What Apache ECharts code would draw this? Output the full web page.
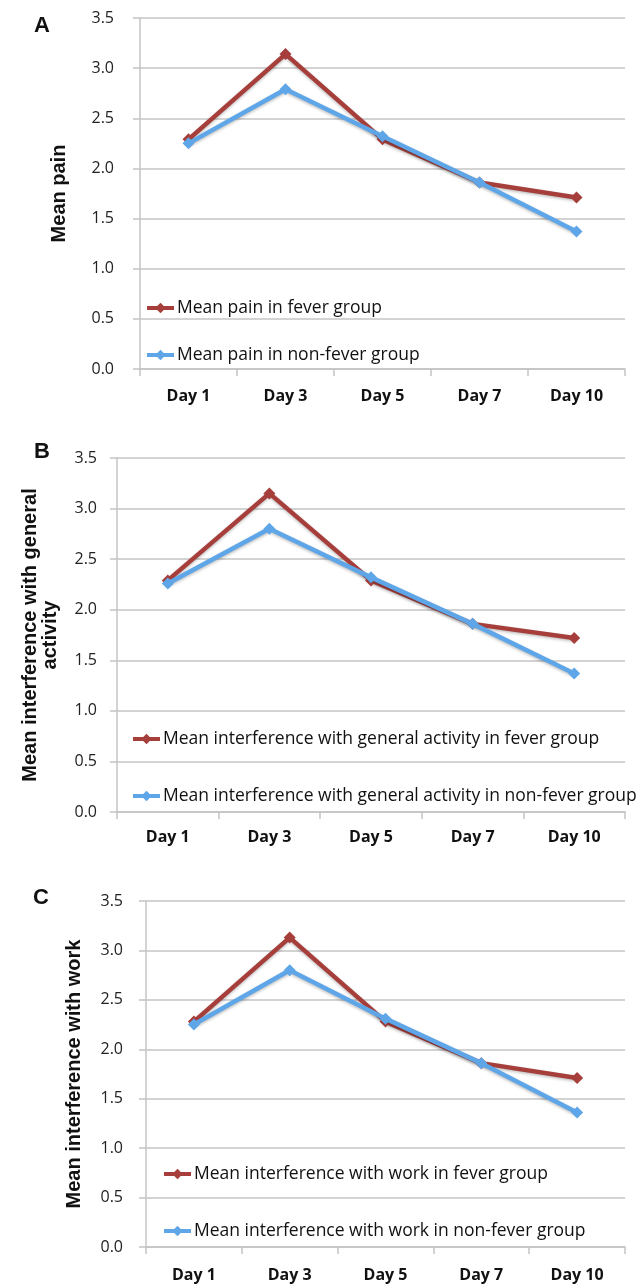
<!DOCTYPE html>
<html>
<head>
<meta charset="utf-8">
<script src="https://cdn.jsdelivr.net/npm/echarts@6/dist/echarts.min.js"></script>
<style>
  html, body { margin: 0; padding: 0; background: #fff; }
  #chart { width: 644px; height: 1286px; }
</style>
</head>
<body>
<div id="chart"></div>
<script>
// ---- data ----
const days = ['Day 1', 'Day 3', 'Day 5', 'Day 7', 'Day 10'];
const yTicks = ['0.0', '0.5', '1.0', '1.5', '2.0', '2.5', '3.0', '3.5'];

const painFever    = [2.29, 3.14, 2.29, 1.86, 1.71];
const painNonFever = [2.25, 2.79, 2.32, 1.86, 1.37];

const activityFever    = [2.29, 3.15, 2.29, 1.86, 1.72];
const activityNonFever = [2.26, 2.80, 2.32, 1.86, 1.37];

const workFever    = [2.28, 3.13, 2.28, 1.86, 1.71];
const workNonFever = [2.25, 2.80, 2.31, 1.86, 1.36];

const panelLetters = ['A', 'B', 'C'];
const yNames = ['Mean pain', 'Mean interference with general\nactivity', 'Mean interference with work'];
const seriesNames = [
  ['Mean pain in fever group', 'Mean pain in non-fever group'],
  ['Mean interference with general activity in fever group', 'Mean interference with general activity in non-fever group'],
  ['Mean interference with work in fever group', 'Mean interference with work in non-fever group']
];
const panelData = [
  [painFever, painNonFever],
  [activityFever, activityNonFever],
  [workFever, workNonFever]
];

// ---- layout / style ----
const RED = '#A63F3B';
const BLUE = '#5EA6E8';
const GRAY = '#c4c4c4';

const grids = [
  { left: 140, right: 19, top: 18, height: 351 },
  { left: 117, right: 19, top: 458, height: 354 },
  { left: 146, right: 19, top: 901, height: 346 }
];
const labelMargins = [26, 20, 23];
const xLabelMargins = [19, 17, 20];
const nameGaps = [71, 57, 62];
const nameSizes = [20, 20, 20];
const titlePos = [
  { left: 34, top: 15 },
  { left: 34, top: 441 },
  { left: 33, top: 887 }
];
const legendPos = [
  { left: 145, top: 299, itemGap: 29 },
  { left: 131, top: 730, itemGap: 39 },
  { left: 162, top: 1165, itemGap: 39 }
];

const option = {
  backgroundColor: '#fff',
  animation: false,
  title: panelLetters.map((t, i) => ({
    text: t, left: titlePos[i].left, top: titlePos[i].top, padding: 0,
    textStyle: { fontFamily: 'Liberation Sans', fontWeight: 'bold', fontSize: 22, color: '#111' }
  })),
  grid: grids,
  xAxis: grids.map((g, i) => ({
    type: 'category', gridIndex: i, data: days, boundaryGap: true,
    axisLine: { show: true, lineStyle: { color: GRAY, width: 1.5 } },
    axisTick: { show: true, length: 7, lineStyle: { color: GRAY, width: 1.5 } },
    axisLabel: { fontFamily: 'Open Sans', fontWeight: 'bold', fontSize: 16, color: '#111', margin: xLabelMargins[i] },
    splitLine: { show: false }
  })),
  yAxis: grids.map((g, i) => ({
    type: 'value', gridIndex: i, min: 0, max: 3.5, interval: 0.5,
    name: yNames[i], nameLocation: 'middle', nameGap: nameGaps[i],
    nameTextStyle: { fontFamily: 'Liberation Sans', fontWeight: 'bold', fontSize: nameSizes[i], color: '#111', lineHeight: 20 },
    axisLine: { show: true, lineStyle: { color: GRAY, width: 1.5 } },
    axisTick: { show: true, length: 7, lineStyle: { color: GRAY, width: 1.5 } },
    axisLabel: {
      fontFamily: 'Open Sans', fontSize: 16, color: '#222', margin: labelMargins[i],
      formatter: v => yTicks[Math.round(v / 0.5)]
    },
    splitLine: { show: true, lineStyle: { color: GRAY, width: 1.5 } }
  })),
  legend: grids.map((g, i) => ({
    orient: 'vertical',
    left: legendPos[i].left, top: legendPos[i].top, itemGap: legendPos[i].itemGap,
    itemWidth: 27, itemHeight: 13, padding: 0,
    data: seriesNames[i],
    lineStyle: { width: 4 },
    textStyle: { fontFamily: 'Open Sans', fontSize: 17.5, color: '#111', padding: [0, 0, 0, -2] }
  })),
  series: []
};

panelData.forEach((pair, i) => {
  pair.forEach((vals, j) => {
    option.series.push({
      type: 'line',
      name: seriesNames[i][j],
      xAxisIndex: i, yAxisIndex: i,
      data: vals,
      symbol: 'diamond', symbolSize: 12,
      lineStyle: { color: j === 0 ? RED : BLUE, width: 4.5, shadowColor: 'rgba(0,0,0,0.25)', shadowBlur: 3, shadowOffsetY: 1.5 },
      itemStyle: { color: j === 0 ? RED : BLUE },
      z: 2 + j
    });
  });
});

const chart = echarts.init(document.getElementById('chart'), null, { renderer: 'canvas' });
chart.setOption(option);
</script>
</body>
</html>
